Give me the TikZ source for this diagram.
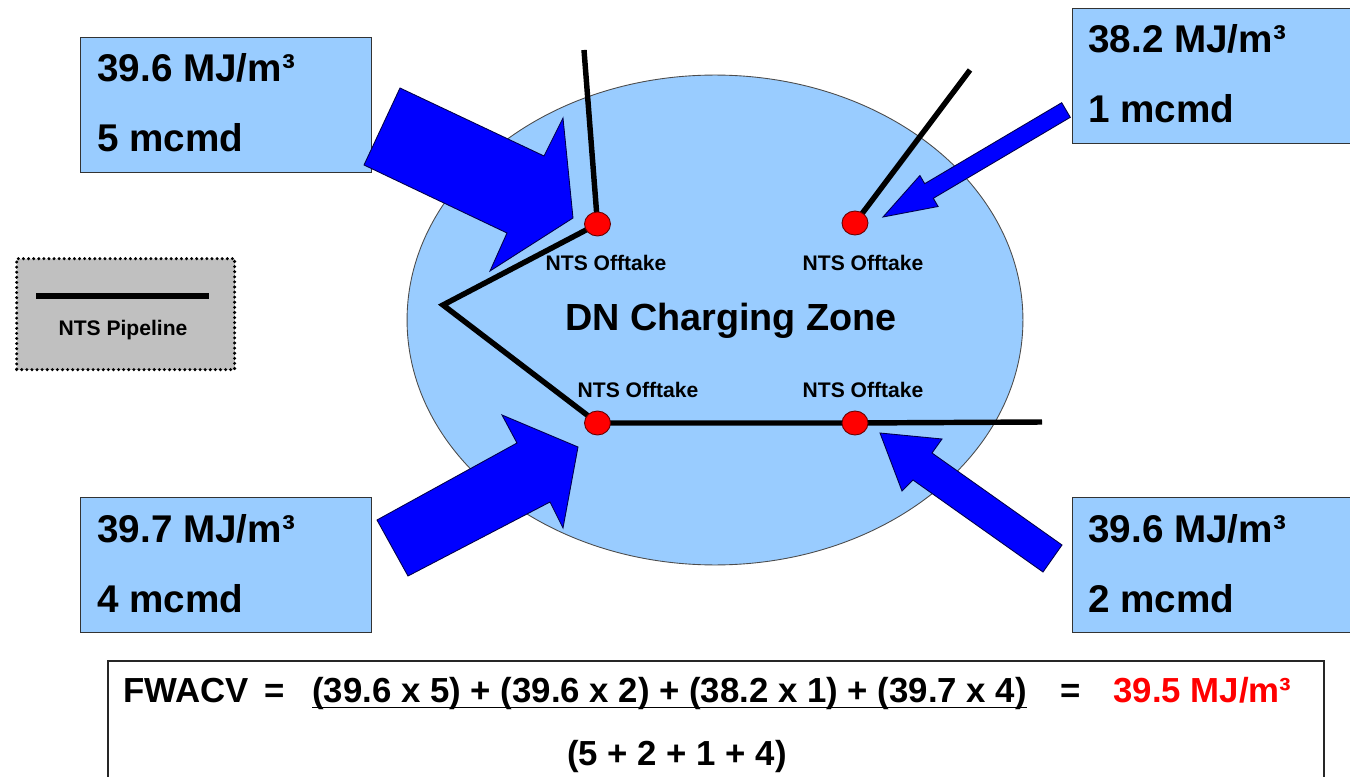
\documentclass[tikz,border=0pt]{standalone}
\usepackage{fontspec}
\setmainfont{Liberation Sans}
\usetikzlibrary{shapes.geometric}
\definecolor{zoneblue}{HTML}{99CCFF}
\definecolor{arrowblue}{HTML}{0000FF}
\definecolor{dotred}{HTML}{FF0000}
\definecolor{legendgray}{HTML}{C0C0C0}
\begin{document}
\begin{tikzpicture}[x=0.02cm,y=-0.02cm,
  infobox/.style={draw=black!80, line width=0.6pt, fill=zoneblue, inner sep=0pt, anchor=north west},
  valtext/.style={font=\bfseries\fontsize{22}{26}\selectfont, anchor=base west, inner sep=0pt},
  pipe/.style={line width=3.1pt},
  blockarrow/.style={fill=arrowblue, draw=black!70!blue, line width=0.5pt, line join=miter},
  offtake/.style={ellipse, fill=dotred, draw=black!60!red, line width=0.5pt, minimum width=0.52cm, minimum height=0.48cm, inner sep=0pt},
  smalllabel/.style={font=\bfseries\fontsize{12}{14}\selectfont, anchor=base, inner sep=0pt},
  formula/.style={font=\bfseries\fontsize{19.8}{24}\selectfont, anchor=base west, inner sep=0pt}]

\useasboundingbox (0,0) rectangle (1350,777);
\clip (0,0) rectangle (1350,777);
\fill[white] (0,0) rectangle (1350,777);

% charging zone
\node[ellipse, draw=black!70, line width=0.5pt, fill=zoneblue, minimum width=12.32cm, minimum height=9.8cm, inner sep=0pt] (zone) at (715,320) {};

% value boxes
\node[infobox, minimum width=5.82cm, minimum height=2.7cm] (boxA) at (80,37) {};
\node[infobox, minimum width=5.8cm, minimum height=2.7cm] (boxB) at (1072,8) {};
\node[infobox, minimum width=5.82cm, minimum height=2.7cm] (boxC) at (80,497) {};
\node[infobox, minimum width=5.8cm, minimum height=2.7cm] (boxD) at (1072,497) {};

% legend
\node[anchor=north west, fill=legendgray, draw=black, dash pattern=on 0pt off 2.9pt, line cap=round, line width=1.9pt, minimum width=4.36cm, minimum height=2.22cm, inner sep=0pt] (legend) at (15,257) {};
\coordinate (legA) at (36,296);
\coordinate (legB) at (209,296);
\draw[pipe] (legA) -- (legB);
\node[smalllabel] (legtext) at (123,335) {NTS Pipeline};

% block arrows
\draw[blockarrow] (400,88) -- (544,156) -- (563,118) -- (573,218) -- (490,271) -- (507,233) -- (364,165) -- cycle;
\draw[blockarrow] (1061.7,102.7) -- (924.7,183.7) -- (919.9,175.5) -- (883,217) -- (938.1,206.5) -- (933.3,198.3) -- (1070.3,117.3) -- cycle;
\draw[blockarrow] (377,520) -- (517,443) -- (502,415) -- (578,447) -- (563,528) -- (550,502) -- (408,576) -- cycle;
\draw[blockarrow] (1062,545) -- (932,453) -- (942,439) -- (880,433) -- (902,491) -- (913,480) -- (1043,572) -- cycle;

% pipeline
\coordinate (o1) at (597.5,224);
\coordinate (o2) at (855,223);
\coordinate (o3) at (597.5,423);
\coordinate (o4) at (855,423);
\coordinate (topA) at (584,50);
\coordinate (topB) at (970,70);
\coordinate (bend) at (443,305);
\coordinate (endR) at (1042,422);
\draw[pipe] (topA) -- (o1);
\draw[pipe] (topB) -- (o2);
\draw[pipe] (o1) -- (bend) -- (o3) -- (o4) -- (endR);

\node[offtake] (d1) at (o1) {};
\node[offtake] (d2) at (o2) {};
\node[offtake] (d3) at (o3) {};
\node[offtake] (d4) at (o4) {};

\node[smalllabel] (l1) at (606,271) {NTS Offtake};
\node[smalllabel] (l2) at (863,271) {NTS Offtake};
\node[smalllabel] (l3) at (638,397) {NTS Offtake};
\node[smalllabel] (l4) at (863,397) {NTS Offtake};

\node[font=\bfseries\fontsize{21.5}{26}\selectfont, anchor=base, inner sep=0pt] (zonetitle) at (731,330) {DN Charging Zone};

% box texts
\node[valtext] (a1) at (97,82) {39.6 MJ/m³};
\node[valtext] (a2) at (97,152) {5 mcmd};
\node[valtext] (b1) at (1088,53) {38.2 MJ/m³};
\node[valtext] (b2) at (1088,123) {1 mcmd};
\node[valtext] (c1) at (97,542) {39.7 MJ/m³};
\node[valtext] (c2) at (97,612) {4 mcmd};
\node[valtext] (e1) at (1088,542) {39.6 MJ/m³};
\node[valtext] (e2) at (1088,612) {2 mcmd};

% formula
\node[anchor=north west, draw=black!85, line width=1.1pt, fill=white, minimum width=24.32cm, minimum height=2.9cm, inner sep=0pt] (fbox) at (107,660) {};
\node[formula] (fw) at (123,702) {FWACV};
\node[formula, anchor=base] (eq1) at (275,702) {=};
\node[formula] (num) at (312,702) {(39.6 x 5) + (39.6 x 2) + (38.2 x 1) + (39.7 x 4)};
\draw[line width=1.1pt] ([yshift=-0.11cm]num.base west) -- ([yshift=-0.11cm]num.base east);
\node[formula, anchor=base] (eq2) at (1071,702) {=};
\node[formula, text=dotred] (res) at (1113,702) {39.5 MJ/m³};
\node[formula, anchor=base] (den) at (677,765) {(5 + 2 + 1 + 4)};
\end{tikzpicture}
\end{document}
